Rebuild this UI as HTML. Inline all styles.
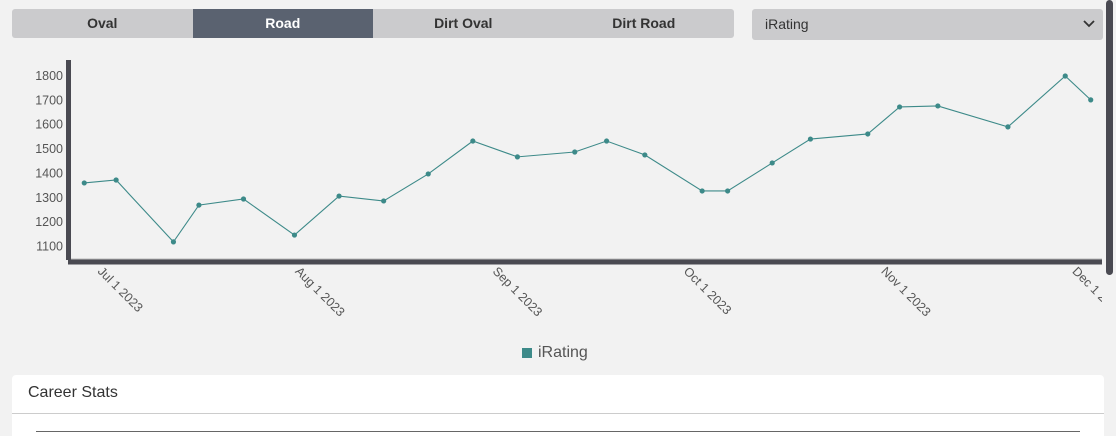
<!DOCTYPE html>
<html><head><meta charset="utf-8"><style>
body{margin:0;width:1116px;height:436px;background:#f2f2f2;font-family:"Liberation Sans",sans-serif;overflow:hidden;position:relative}
.tabs{position:absolute;left:12px;top:9px;width:722px;height:29px;background:#cbcbcd;border-radius:3px;display:flex}
.tab{width:180.5px;text-align:center;line-height:29px;font-size:14px;font-weight:bold;color:#333}
.tab.on{background:#5a6270;color:#fff}
.dd{position:absolute;left:752px;top:9px;width:351px;height:31px;background:#cbcbcd;border-radius:3px;font-size:14px;color:#333;line-height:31px}
.card{position:absolute;left:12px;top:375px;width:1092px;height:61px;background:#fff;border-radius:4px 4px 0 0;overflow:hidden}
</style></head><body>
<div class="tabs">
<div class="tab">Oval</div>
<div class="tab on">Road</div>
<div class="tab">Dirt Oval</div>
<div class="tab">Dirt Road</div>
</div>
<div class="dd"><span style="margin-left:13px">iRating</span>
<svg style="position:absolute;right:8px;top:11px" width="12" height="8"><path d="M1 1 L6 6 L11 1" stroke="#333" stroke-width="1.8" fill="none"/></svg></div>
<svg id="chart" width="1116" height="340" style="position:absolute;left:0;top:0"></svg>
<div style="position:absolute;left:1106px;top:0;width:7px;height:275px;background:#4a4a52;border-radius:4px"></div>
<div style="position:absolute;left:522px;top:348px;width:10px;height:10px;background:#3d8a89"></div>
<div style="position:absolute;left:538px;top:344px;font-size:16px;color:#555">iRating</div>
<div class="card">
<div style="position:absolute;left:16px;top:9px;font-size:16px;color:#333">Career Stats</div>
<div style="position:absolute;left:0;right:0;top:38px;border-top:1px solid #ccc"></div>
<div style="position:absolute;left:24px;width:1044px;top:56px;border-top:1px solid #666"></div>
</div>
<script>
const dates=["2023-06-29","2023-07-04","2023-07-13","2023-07-17","2023-07-24","2023-08-01","2023-08-08","2023-08-15","2023-08-22","2023-08-29","2023-09-05","2023-09-14","2023-09-19","2023-09-25","2023-10-04","2023-10-08","2023-10-15","2023-10-21","2023-10-30","2023-11-04","2023-11-10","2023-11-21","2023-11-30","2023-12-04"];
const ratings=[1359,1371,1117,1268,1293,1145,1305,1285,1396,1531,1466,1486,1531,1474,1326,1326,1441,1539,1560,1671,1675,1589,1798,1700];
const yTicks=[1100,1200,1300,1400,1500,1600,1700,1800];
const xTicks=["2023-07-01","2023-08-01","2023-09-01","2023-10-01","2023-11-01","2023-12-01"];
const xTickLabels=["Jul 1 2023","Aug 1 2023","Sep 1 2023","Oct 1 2023","Nov 1 2023","Dec 1 2023"];
const NS="http://www.w3.org/2000/svg",svg=document.getElementById('chart');
const t0=Date.parse("2023-07-01");
const X=d=>97+(Date.parse(d)-t0)/864e5*6.37;
const Y=v=>75.5+(1800-v)*0.2436;
function mk(tag,a){const e=document.createElementNS(NS,tag);for(const k in a)e.setAttribute(k,a[k]);svg.appendChild(e);return e;}
let e=mk('line',{x1:68,y1:259,x2:1102,y2:259,stroke:'#bbb','stroke-width':1});

e=mk('rect',{x:66,y:60,width:5,height:200,fill:'#4a4a52'});

e=mk('rect',{x:68,y:259.5,width:1034,height:5,fill:'#4a4a52'});

yTicks.forEach(v=>{const t=mk('text',{x:63,y:Y(v)+4.5,'text-anchor':'end','font-size':12.5,fill:'#555'});t.textContent=v;
});
xTicks.forEach((d,i)=>{const x=X(d);const t=mk('text',{x:x,y:272,'font-size':12.5,fill:'#555',transform:`rotate(45 ${x} 272)`});t.textContent=xTickLabels[i];
});
e=mk('rect',{x:1102,y:264,width:14,height:76,fill:'#f2f2f2'});

const pts=dates.map((d,i)=>X(d)+','+Y(ratings[i])).join(' ');
e=mk('polyline',{points:pts,fill:'none',stroke:'#3d8a89','stroke-width':1.1});

dates.forEach((d,i)=>{const c=mk('circle',{cx:X(d),cy:Y(ratings[i]),r:2.6,fill:'#3d8a89'});
});
</script>
</body></html>
